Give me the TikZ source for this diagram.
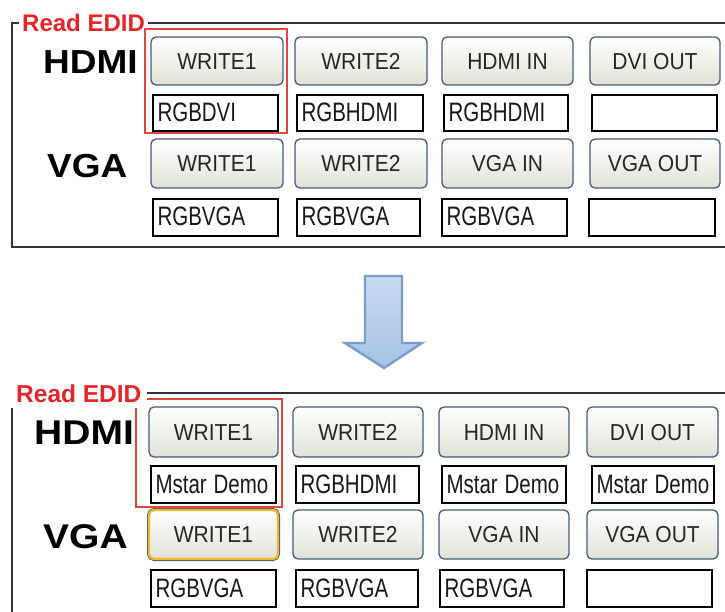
\documentclass[tikz,border=0pt]{standalone}
\usepackage{fontspec}
\setmainfont{Liberation Sans}
\usepackage{graphicx}
\definecolor{btnb}{HTML}{3F5D7C}
\definecolor{btnf}{HTML}{E2E1D6}
\definecolor{redtxt}{HTML}{E5252A}
\definecolor{redrect}{HTML}{E4443F}
\definecolor{framec}{HTML}{333333}
\definecolor{arrtop}{HTML}{C8DAF1}
\definecolor{arrbot}{HTML}{A6C2E5}
\definecolor{arrline}{HTML}{7B9CC9}
\definecolor{selc}{HTML}{F0B830}
\newcommand\mkbtn[7][]{%
  \pgfmathsetmacro\mybw{#4-#3}\pgfmathsetmacro\mybh{#6-#5}%
  \pgfmathsetmacro\mybx{(#3+#4)/2}\pgfmathsetmacro\myby{(#5+#6)/2}%
  \node[btnbox,#1,minimum width=\mybw pt,minimum height=\mybh pt] (#2) at (\mybx,\myby) {\scalebox{1}[1.1]{#7}};}
\newcommand\mktxt[6]{%
  \pgfmathsetmacro\mytw{#3-#2}\pgfmathsetmacro\mytt{#3-#2-9}%
  \pgfmathsetmacro\mytx{(#2+#3)/2}\pgfmathsetmacro\myty{(#4+#5)/2}\pgfmathsetmacro\myth{#5-#4}%
  \node[txtbox,minimum width=\mytw pt,minimum height=\myth pt,text width=\mytt pt] (#1) at (\mytx,\myty) {\scalebox{1}[1.3]{#6}};}
\begin{document}
\begin{tikzpicture}[x=1pt,y=-1pt,
  btnbox/.style={draw=btnb,line width=1.3pt,rounded corners=5pt,top color=white,bottom color=btnf,
    inner sep=0pt,font=\fontsize{21}{21}\selectfont,text=black!85,text height=16.5pt,text depth=0pt},
  selbtn/.style={draw=selc,line width=2.4pt,preaction={draw=btnb,line width=4pt}},
  txtbox/.style={draw=black,line width=1.4pt,fill=white,inner xsep=4.5pt,inner ysep=0pt,align=left,
    font=\fontsize{20.5}{20.5}\selectfont,text=black!90,text height=19pt,text depth=2pt},
  frame/.style={draw=framec,line width=1.6pt},
  lbl/.style={fill=white,text=redtxt,font=\bfseries\fontsize{24}{24}\selectfont,anchor=base west},
  bigt/.style={font=\bfseries\fontsize{37}{37}\selectfont,anchor=base west,inner sep=0pt},
  hilite/.style={draw=redrect,line width=2.6pt},
  bigarrow/.style={draw=arrline,line width=2.4pt,top color=arrtop,bottom color=arrbot,line join=miter}]
\useasboundingbox (0,0) rectangle (725,612);
% ---------- top panel ----------
\draw[frame] (730,247) -- (12,247) -- (12,23) -- (730,23);
\node[bigt] (hdA) at (43,74) {\scalebox{1}[0.9]{HDMI}};
\node[bigt] (vgA) at (47,178) {\scalebox{1}[0.9]{VGA}};
\mkbtn{a11}{151}{283}{37}{85}{WRITE1}
\mkbtn{a12}{295}{427}{37}{85}{WRITE2}
\mkbtn{a13}{442}{573}{37}{85}{HDMI IN}
\mkbtn{a14}{590}{720}{37}{85}{DVI OUT}
\mktxt{ta11}{153}{278}{95}{131}{RGBDVI}
\mktxt{ta12}{297}{423}{95}{131}{RGBHDMI}
\mktxt{ta13}{444}{568}{95}{131}{RGBHDMI}
\mktxt{ta14}{592}{717}{95}{131}{}
\mkbtn{a21}{151}{283}{139}{188}{WRITE1}
\mkbtn{a22}{295}{427}{139}{188}{WRITE2}
\mkbtn{a23}{442}{573}{139}{188}{VGA IN}
\mkbtn{a24}{590}{720}{139}{188}{VGA OUT}
\mktxt{ta21}{153}{278}{199}{236}{RGBVGA}
\mktxt{ta22}{297}{420}{199}{236}{RGBVGA}
\mktxt{ta23}{442}{567}{199}{236}{RGBVGA}
\mktxt{ta24}{589}{715}{199}{236}{}
\node[lbl,inner xsep=3pt,inner ysep=3pt] (rdA) at (19,32) {Read EDID};
\draw[hilite] (145,29) rectangle (287,133);
% ---------- arrow ----------
\draw[bigarrow] (365,276) -- (402,276) -- (402,343) -- (422,343) -- (384,368) -- (345,343) -- (365,343) -- cycle;
% ---------- bottom panel ----------
\draw[frame] (12,620) -- (12,393) -- (730,393);
\node[bigt,font=\bfseries\fontsize{39}{39}\selectfont] (hdB) at (34,444) {\scalebox{1}[0.88]{HDMI}};
\node[bigt,font=\bfseries\fontsize{39}{39}\selectfont] (vgB) at (43,548) {\scalebox{1}[0.88]{VGA}};
\mkbtn{b11}{149}{278}{407}{457}{WRITE1}
\mkbtn{b12}{293}{423}{407}{457}{WRITE2}
\mkbtn{b13}{439}{569}{407}{457}{HDMI IN}
\mkbtn{b14}{587}{718}{407}{457}{DVI OUT}
\mktxt{tb11}{151}{276}{466}{503}{Mstar Demo}
\mktxt{tb12}{296}{419}{466}{503}{RGBHDMI}
\mktxt{tb13}{442}{566}{466}{503}{Mstar Demo}
\mktxt{tb14}{592}{714}{466}{503}{Mstar Demo}
\mkbtn[selbtn]{b21}{149}{278}{510}{559}{WRITE1}
\mkbtn{b22}{293}{423}{510}{559}{WRITE2}
\mkbtn{b23}{439}{569}{510}{559}{VGA IN}
\mkbtn{b24}{587}{718}{510}{559}{VGA OUT}
\mktxt{tb21}{151}{276}{570}{607}{RGBVGA}
\mktxt{tb22}{296}{418}{570}{607}{RGBVGA}
\mktxt{tb23}{440}{564}{570}{607}{RGBVGA}
\mktxt{tb24}{587}{712}{570}{607}{}
\draw[hilite] (136,399) rectangle (282,507);
\node[lbl,font=\bfseries\fontsize{24.5}{24.5}\selectfont,inner xsep=6pt,inner ysep=6pt] (rdB) at (10,402) {Read EDID};
\end{tikzpicture}
\end{document}
